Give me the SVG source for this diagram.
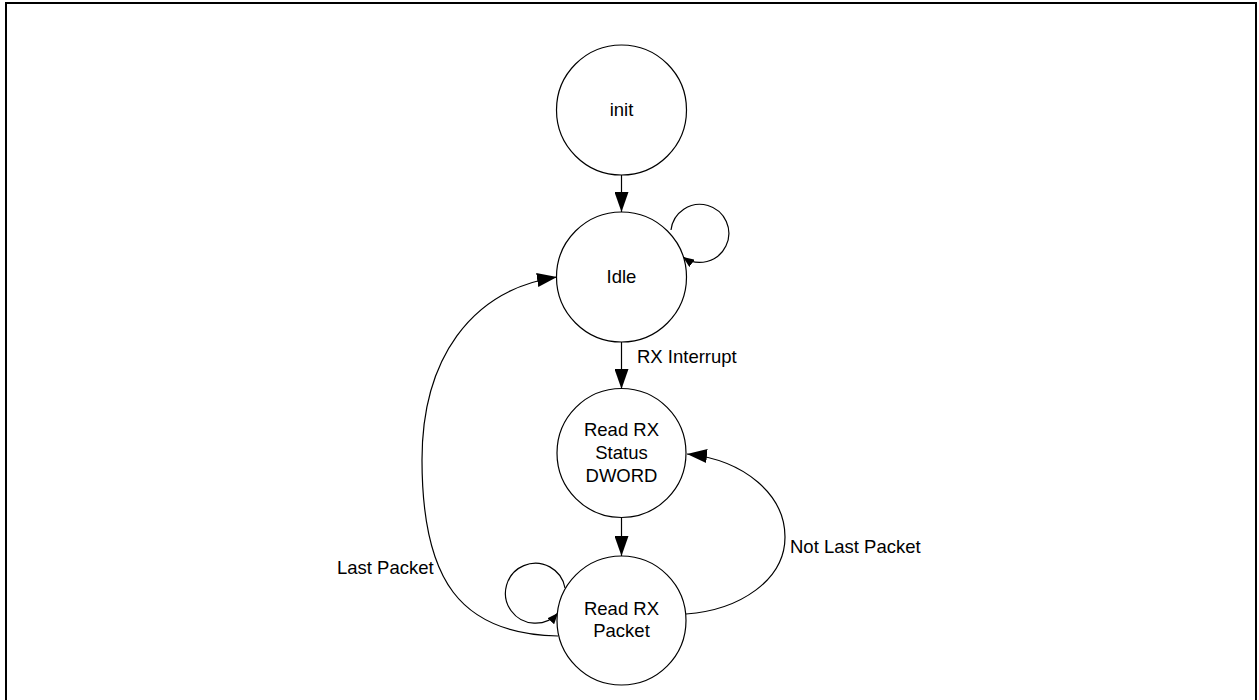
<svg xmlns="http://www.w3.org/2000/svg" width="1259" height="700" viewBox="0 0 1259 700">
<style>
.st{fill:#fff;stroke:#000;stroke-width:1.2}
.c{fill:none;stroke:#000;stroke-width:1.2}
text{font-family:"Liberation Sans",Arial,sans-serif;font-size:18.5px;fill:#000}
.m{text-anchor:middle}
</style>
<defs>
<marker id="ah" viewBox="0 0 20 14" refX="20" refY="7" markerWidth="20" markerHeight="14" markerUnits="userSpaceOnUse" orient="auto">
<path d="M0,0 L20,7 L0,14 Z" fill="#000"/>
</marker>
<marker id="as" viewBox="0 0 11 9" refX="11" refY="4.5" markerWidth="11" markerHeight="9" markerUnits="userSpaceOnUse" orient="auto">
<path d="M0,0 L11,4.5 L0,9 Z" fill="#000"/>
</marker>
</defs>
<rect x="6" y="3" width="1250" height="730" fill="#fff" stroke="#000" stroke-width="2"/>
<g id="connectors">
<line class="c" x1="621.5" y1="175" x2="621.5" y2="212" marker-end="url(#ah)"/>
<line class="c" x1="621.5" y1="342" x2="621.5" y2="389" marker-end="url(#ah)"/>
<line class="c" x1="621.5" y1="518" x2="621.5" y2="556" marker-end="url(#ah)"/>
<path class="c" d="M671,230 A29,29 0 1 1 683,257" marker-end="url(#as)"/>
<path class="c" d="M565,588 A30,30 0 1 0 558,613" marker-end="url(#as)"/>
<path class="c" d="M686,614 C740,610 785,580 785,537 C785,495 745,460 687,454" marker-end="url(#ah)"/>
<path class="c" d="M558,636 C460,634 422,580 422,460 C422,360 470,290 557,277" marker-end="url(#ah)"/>
<text x="637" y="363">RX Interrupt</text>
<text x="790" y="553">Not Last Packet</text>
<text x="337" y="574">Last Packet</text>
</g>
<g id="init">
<circle class="st" cx="621.5" cy="110" r="65"/>
<text class="m" x="621.5" y="116">init</text>
</g>
<g id="idle">
<circle class="st" cx="621.5" cy="277" r="65"/>
<text class="m" x="621.5" y="283">Idle</text>
</g>
<g id="status">
<circle class="st" cx="621.5" cy="453" r="64.5"/>
<text class="m" x="621.5" y="436">Read RX</text>
<text class="m" x="621.5" y="459">Status</text>
<text class="m" x="621.5" y="482">DWORD</text>
</g>
<g id="packet">
<circle class="st" cx="621.5" cy="620.5" r="64.5"/>
<text class="m" x="621.5" y="615">Read RX</text>
<text class="m" x="621.5" y="637">Packet</text>
</g>
</svg>
